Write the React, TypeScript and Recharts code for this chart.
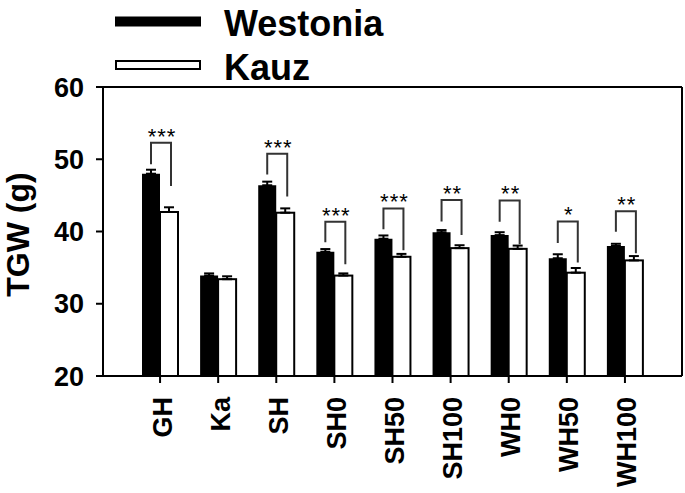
import { BarChart, Bar, XAxis, YAxis, ErrorBar, ReferenceLine } from 'recharts'

const categories = ['GH', 'Ka', 'SH', 'SH0', 'SH50', 'SH100', 'WH0', 'WH50', 'WH100']
const westonia = [48.0, 33.9, 46.4, 37.2, 39.0, 39.9, 39.5, 36.3, 38.0]
const westoniaErr = [0.55, 0.3, 0.5, 0.37, 0.45, 0.3, 0.4, 0.55, 0.3]
const kauz = [42.7, 33.4, 42.6, 33.9, 36.5, 37.7, 37.6, 34.3, 36.0]
const kauzErr = [0.65, 0.4, 0.6, 0.3, 0.4, 0.4, 0.45, 0.65, 0.6]

// significance brackets (data units)
const sigLabels = ['***', '', '***', '***', '***', '**', '**', '*', '**']
const bracketTop = [52.3, 0, 50.75, 41.35, 43.2, 44.35, 44.3, 41.4, 42.8]
const legLeftEnd = [49.3, 0, 47.9, 38.5, 40.3, 41.4, 41.35, 38.4, 39.95]
const legRightEnd = [46.3, 0, 44.85, 35.45, 37.4, 39.5, 38.25, 35.7, 37.0]

const yTicks = [20, 30, 40, 50, 60]

const data = categories.map((name, i) => ({
  name,
  idx: i,
  westonia: westonia[i],
  kauz: kauz[i],
  wErr: [0, westoniaErr[i]],
  kErr: [0, kauzErr[i]],
}))

const FONT = '"Liberation Sans", Arial, Helvetica, sans-serif'

function KauzShape(props: any) {
  const { x, y, width, height, payload } = props
  const i = payload.idx
  const base = y + height
  const pxPerUnit = height / (kauz[i] - 20)
  const toPx = (v: number) => base - (v - 20) * pxPerUnit
  const leftX = x - width / 2
  const rightX = x + width / 2 + 2
  return (
    <g>
      <rect x={x} y={y} width={width} height={height} fill="#fff" stroke="#000" strokeWidth={2} />
      {sigLabels[i] && (
        <g>
          <polyline
            points={`${leftX},${toPx(legLeftEnd[i])} ${leftX},${toPx(bracketTop[i])} ${rightX},${toPx(bracketTop[i])} ${rightX},${toPx(legRightEnd[i])}`}
            fill="none"
            stroke="#333"
            strokeWidth={2}
          />
          <text
            x={(leftX + rightX) / 2 + 1}
            y={toPx(bracketTop[i]) + 1}
            textAnchor="middle"
            fontFamily={FONT}
            fontSize={22}
            letterSpacing={1}
            fill="#000"
          >
            {sigLabels[i]}
          </text>
        </g>
      )}
    </g>
  )
}

function XTick({ x, y, payload }: any) {
  return (
    <text
      transform={`translate(${x + 2},${y + 14}) rotate(-90)`}
      textAnchor="end"
      dy="0.35em"
      fontFamily={FONT}
      fontWeight="bold"
      fontSize={27}
      fill="#000"
    >
      {payload.value}
    </text>
  )
}

function YLabel({ viewBox }: any) {
  const cy = viewBox.y + viewBox.height / 2 + 3
  return (
    <text
      transform={`translate(29,${cy}) rotate(-90)`}
      textAnchor="middle"
      fontFamily={FONT}
      fontWeight="bold"
      fontSize={32}
      fill="#000"
    >
      TGW (g)
    </text>
  )
}

function LegendBox() {
  return (
    <svg
      width={420}
      height={100}
      style={{ position: 'absolute', left: 0, top: 0, pointerEvents: 'none', overflow: 'visible' }}
    >
      <rect x={115} y={16.5} width={86} height={10} fill="#000" />
      <text x={224} y={36} fontFamily={FONT} fontWeight="bold" fontSize={36} fill="#000">
        Westonia
      </text>
      <rect x={116} y={61} width={84} height={8} fill="#fff" stroke="#000" strokeWidth={2} />
      <text x={224} y={80} fontFamily={FONT} fontWeight="bold" fontSize={36} fill="#000">
        Kauz
      </text>
    </svg>
  )
}

export default function App() {
  return (
    <div style={{ position: 'absolute', left: 0, top: 0, width: 685, height: 493, background: '#fff' }}>
      <BarChart
        width={685}
        height={493}
        data={data}
        margin={{ top: 87, right: 2, bottom: 0, left: 0 }}
        barGap={0}
        barSize={18}
      >
        <XAxis
          dataKey="name"
          height={117}
          padding={{ left: 28, right: 28 }}
          axisLine={{ stroke: '#000', strokeWidth: 2 }}
          tickLine={{ stroke: '#000', strokeWidth: 2 }}
          tickSize={7}
          tickMargin={0}
          tick={<XTick />}
          interval={0}
        />
        <YAxis
          yAxisId="left"
          width={103}
          domain={[20, 60]}
          ticks={yTicks}
          axisLine={{ stroke: '#000', strokeWidth: 2 }}
          tickLine={{ stroke: '#000', strokeWidth: 2 }}
          tickSize={7}
          tickMargin={12}
          tick={{ fontFamily: FONT, fontWeight: 'bold', fontSize: 27, fill: '#000' }}
          label={<YLabel />}
        />
        <YAxis
          yAxisId="right"
          orientation="right"
          width={1}
          domain={[20, 60]}
          tick={false}
          tickLine={false}
          axisLine={{ stroke: '#000', strokeWidth: 2 }}
        />
        <ReferenceLine yAxisId="left" y={60} stroke="#000" strokeWidth={2} />
        <Bar yAxisId="left" dataKey="westonia" fill="#000" isAnimationActive={false}>
          <ErrorBar dataKey="wErr" direction="y" width={5} stroke="#000" strokeWidth={2} />
        </Bar>
        <Bar yAxisId="left" dataKey="kauz" fill="#fff" shape={<KauzShape />} isAnimationActive={false}>
          <ErrorBar dataKey="kErr" direction="y" width={5} stroke="#000" strokeWidth={2} />
        </Bar>
      </BarChart>
      <LegendBox />
    </div>
  )
}
